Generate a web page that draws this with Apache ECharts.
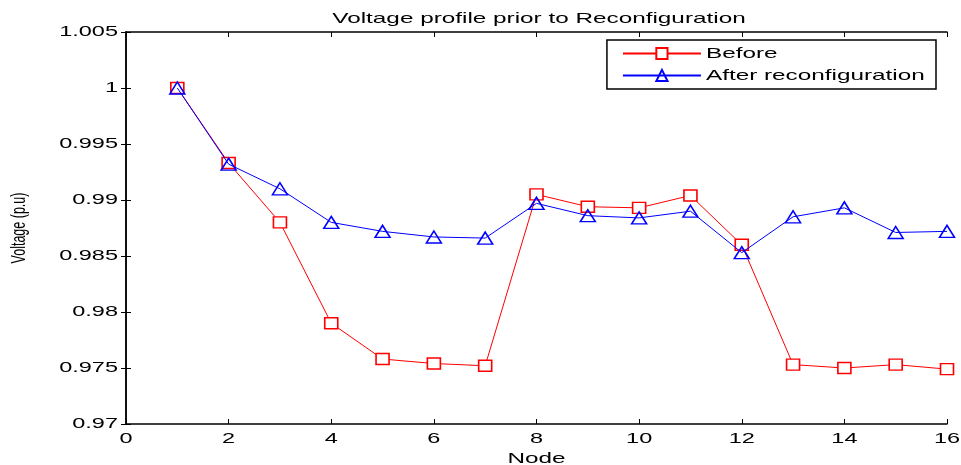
<!DOCTYPE html>
<html>
<head>
<meta charset="utf-8">
<script src="https://cdn.jsdelivr.net/npm/echarts@6/dist/echarts.min.js"></script>
<style>
  html, body { margin: 0; padding: 0; background: #fff; }
  #main { width: 961px; height: 465px; }
</style>
</head>
<body>
<div id="main"></div>
<script>
// node numbers
const nodes = [1, 2, 3, 4, 5, 6, 7, 8, 9, 10, 11, 12, 13, 14, 15, 16];
// voltage before reconfiguration
const before = [1.0, 0.9933, 0.9880, 0.9790, 0.9758, 0.9754, 0.9752, 0.9905,
  0.9894, 0.9893, 0.9904, 0.9860, 0.9753, 0.9750, 0.9753, 0.9749];
// voltage after reconfiguration
const after = [1.0, 0.9932, 0.9910, 0.9880, 0.9872, 0.9867, 0.9866, 0.9897,
  0.9886, 0.9884, 0.9890, 0.9853, 0.9885, 0.9893, 0.9871, 0.9872];

// the source figure was stretched sideways, so text is drawn wider on screen
const stretch = 1.62;
const fillTextOrig = CanvasRenderingContext2D.prototype.fillText;
CanvasRenderingContext2D.prototype.fillText = function (text, x, y, maxWidth) {
  const m = this.getTransform();
  const rotated = Math.abs(m.b) > 0.5;
  this.save();
  this.translate(x, y);
  if (rotated) this.scale(1, stretch); else this.scale(stretch, 1);
  fillTextOrig.call(this, text, 0, 0, maxWidth);
  this.restore();
};

const font = 'Liberation Sans, Arial, sans-serif';
const chart = echarts.init(document.getElementById('main'));

// common settings for the framing axes
const frameLine = { show: true, lineStyle: { color: '#000', width: 1.5 } };
const insideTick = { show: true, inside: true, length: 5, lineStyle: { color: '#000', width: 1 } };

chart.setOption({
  animation: false,
  backgroundColor: '#fff',
  title: {
    text: 'Voltage profile prior to Reconfiguration',
    left: 534, top: 6, textAlign: 'center',
    textStyle: { fontFamily: font, fontSize: 15, fontWeight: 'normal', color: '#000' }
  },
  legend: {
    orient: 'vertical',
    right: 25, top: 40,
    borderColor: '#000', borderWidth: 1.5, borderRadius: 0,
    padding: [6, 95, 6, 15],
    itemGap: 7,
    itemWidth: 78, itemHeight: 14,
    textStyle: { fontFamily: font, fontSize: 15, color: '#000' },
    data: ['Before', 'After reconfiguration']
  },
  grid: { left: 126, right: 14, top: 32, bottom: 41, outerBoundsMode: 'none' },
  xAxis: [
    {
      type: 'value', min: 0, max: 16, interval: 2,
      name: 'Node', nameLocation: 'middle', nameGap: 24,
      nameTextStyle: { fontFamily: font, fontSize: 15, color: '#000' },
      axisLine: frameLine, axisTick: insideTick, splitLine: { show: false },
      axisLabel: { fontFamily: font, fontSize: 14.5, color: '#000', margin: 7 }
    },
    {
      type: 'value', min: 0, max: 16, interval: 2, position: 'top',
      axisLine: frameLine, axisTick: insideTick, splitLine: { show: false },
      axisLabel: { show: false }
    }
  ],
  yAxis: [
    {
      type: 'value', min: 0.97, max: 1.005, interval: 0.005,
      name: 'Voltage (p.u)', nameLocation: 'middle', nameGap: 100, nameRotate: 90,
      nameTextStyle: { fontFamily: font, fontSize: 12.5, color: '#000' },
      axisLine: frameLine, axisTick: insideTick, splitLine: { show: false },
      axisLabel: {
        fontFamily: font, fontSize: 14.5, color: '#000', margin: 8,
        formatter: v => String(+v.toFixed(3))
      }
    },
    {
      type: 'value', min: 0.97, max: 1.005, interval: 0.005, position: 'right',
      axisLine: frameLine, axisTick: insideTick, splitLine: { show: false },
      axisLabel: { show: false }
    }
  ],
  series: [
    {
      name: 'Before', type: 'line',
      data: nodes.map((n, i) => [n, before[i]]),
      symbol: 'rect', symbolSize: [13, 11],
      itemStyle: { color: '#fff', borderColor: '#ff0000', borderWidth: 1.5 },
      lineStyle: { color: '#ff0000', width: 1 },
      z: 2
    },
    {
      name: 'After reconfiguration', type: 'line',
      data: nodes.map((n, i) => [n, after[i]]),
      symbol: 'triangle', symbolSize: [15, 12],
      itemStyle: { color: 'rgba(255,255,255,0)', borderColor: '#0000ff', borderWidth: 1.5 },
      lineStyle: { color: '#0000ff', width: 1 },
      z: 3
    }
  ]
});
</script>
</body>
</html>
